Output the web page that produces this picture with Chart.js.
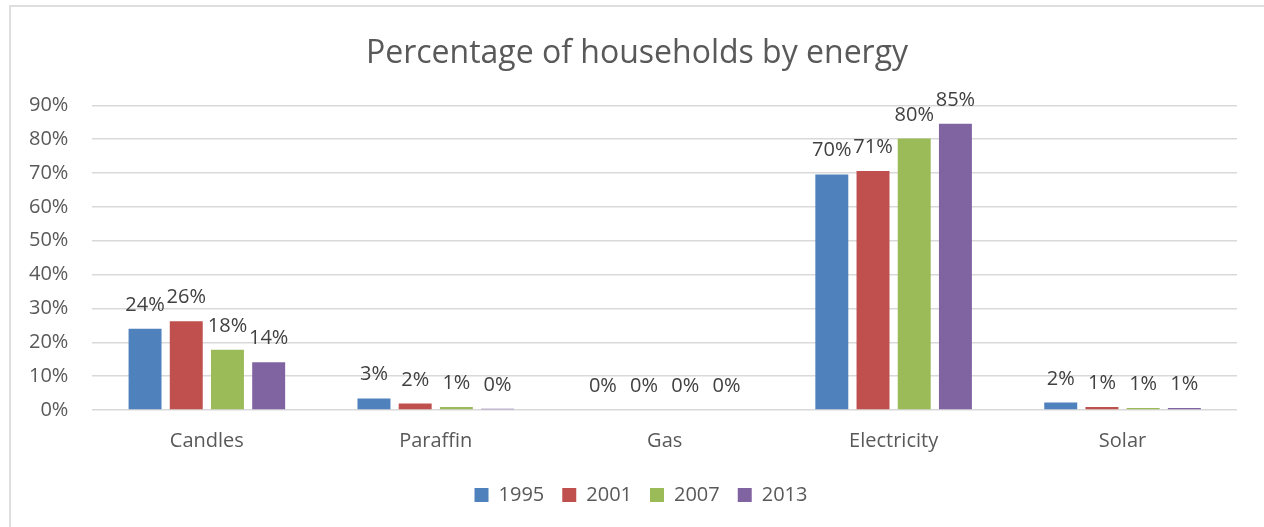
<!DOCTYPE html>
<html>
<head>
<meta charset="utf-8">
<script src="https://cdn.jsdelivr.net/npm/chart.js@4.4.1/dist/chart.umd.min.js"></script>
<style>
  html, body { margin: 0; padding: 0; background: #ffffff; overflow: hidden; }
  #frame {
    position: absolute; left: 9px; top: 5px; width: 1400px; height: 700px;
    border-left: 2px solid #dedede; border-top: 2px solid #dedede;
    pointer-events: none;
  }
  canvas { position: absolute; left: 0; top: 0; }
</style>
</head>
<body>
<div id="frame"></div>
<canvas id="chart" width="1264" height="527"></canvas>
<script>
// Share of households by main energy source, in percent
const categories = ['Candles', 'Paraffin', 'Gas', 'Electricity', 'Solar'];
const years = ['1995', '2001', '2007', '2013'];
const values1995 = [24.0, 3.4, 0, 69.6, 2.2];
const values2001 = [26.2, 1.9, 0, 70.6, 0.9];
const values2007 = [17.8, 0.9, 0, 80.2, 0.6];
const values2013 = [14.1, 0.4, 0, 84.6, 0.6];
const yTicks = [0, 10, 20, 30, 40, 50, 60, 70, 80, 90];
const seriesColors = ['#4F81BD', '#C0504D', '#9BBB59', '#8064A2'];

const FONT = "'Open Sans', 'Noto Sans', sans-serif";

// Draws the rounded value above each bar
const valueLabels = {
  id: 'valueLabels',
  afterDatasetsDraw(chart) {
    const ctx = chart.ctx;
    ctx.save();
    ctx.font = '20px ' + FONT;
    ctx.fillStyle = '#404040';
    ctx.textAlign = 'center';
    ctx.textBaseline = 'alphabetic';
    chart.data.datasets.forEach((ds, i) => {
      const meta = chart.getDatasetMeta(i);
      meta.data.forEach((bar, j) => {
        const v = ds.data[j];
        ctx.fillText(Math.round(v) + '%', bar.x, bar.y - 18);
      });
    });
    ctx.restore();
  }
};

// Centres the title and legend on the outer chart frame rather than the padded box
const frameCentring = {
  id: 'frameCentring',
  afterLayout(chart) {
    if (chart.legend) chart.legend.left += 40;
    if (chart.titleBlock) chart.titleBlock.left += 32;
  }
};

const seriesValues = [values1995, values2001, values2007, values2013];

new Chart(document.getElementById('chart'), {
  type: 'bar',
  data: {
    labels: categories,
    datasets: years.map((y, i) => ({
      label: y,
      data: seriesValues[i],
      backgroundColor: seriesColors[i],
      borderWidth: 0,
      barPercentage: 0.8,
      categoryPercentage: 0.72
    }))
  },
  options: {
    responsive: false,
    animation: false,
    devicePixelRatio: 1,
    layout: { padding: { left: 5, right: 27, top: 0, bottom: 12 } },
    plugins: {
      title: {
        display: true,
        text: 'Percentage of households by energy',
        color: '#595959',
        font: { family: FONT, size: 32, weight: 'normal' },
        padding: { top: 35, bottom: 32 }
      },
      legend: {
        position: 'bottom',
        labels: {
          color: '#595959',
          font: { family: FONT, size: 20 },
          boxWidth: 14,
          boxHeight: 14,
          padding: 18
        }
      },
      tooltip: { enabled: false }
    },
    scales: {
      x: {
        grid: { display: false, drawTicks: false },
        border: { display: false },
        ticks: {
          color: '#595959',
          font: { family: FONT, size: 20 },
          padding: 19,
          maxRotation: 0
        },
        afterFit(axis) { axis.height -= 5; }
      },
      y: {
        min: 0,
        max: 90,
        afterBuildTicks(axis) {
          axis.ticks = yTicks.map(v => ({ value: v }));
        },
        grid: { color: '#d9d9d9', lineWidth: 1.5, drawTicks: false },
        border: { display: false },
        ticks: {
          color: '#595959',
          font: { family: FONT, size: 20 },
          padding: 24,
          callback: v => v + '%'
        }
      }
    }
  },
  plugins: [valueLabels, frameCentring]
});
</script>
</body>
</html>
